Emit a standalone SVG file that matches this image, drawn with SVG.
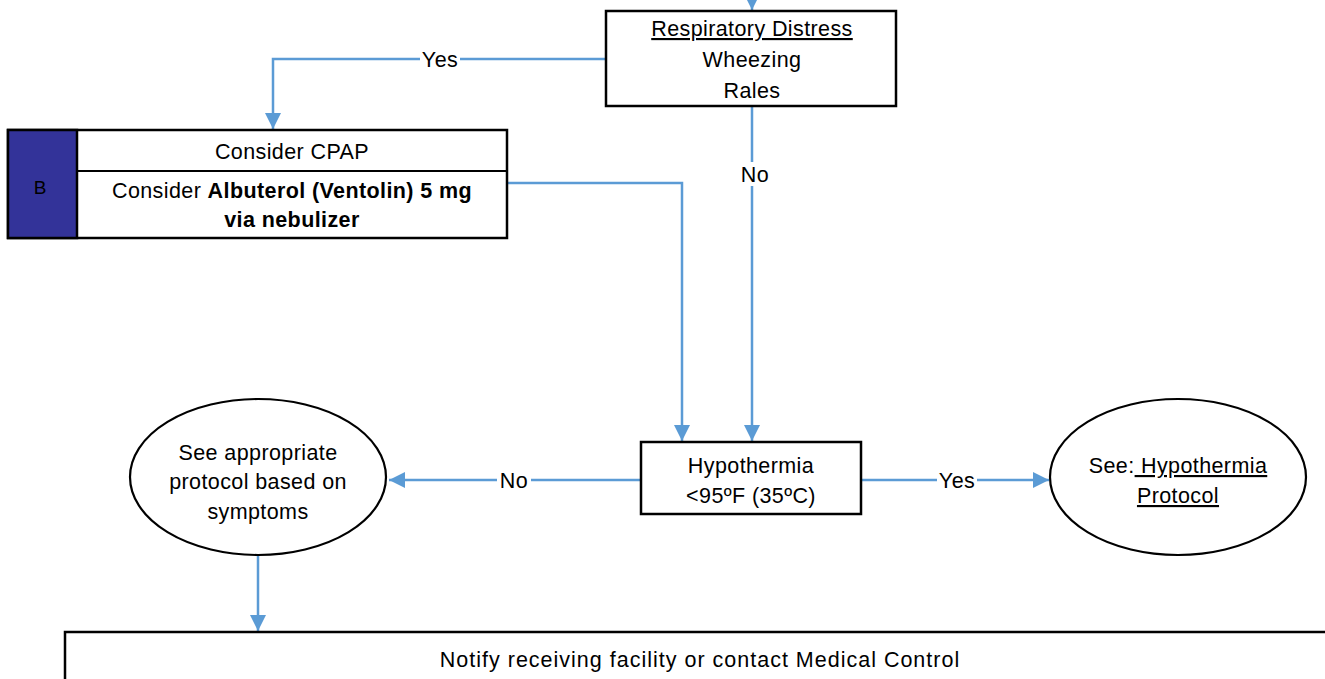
<svg xmlns="http://www.w3.org/2000/svg" width="1325" height="679" viewBox="0 0 1325 679">
<style>
.box{fill:#fff;stroke:#000;stroke-width:2.5}
.ell{fill:#fff;stroke:#000;stroke-width:2.2}
.t{font-family:"Liberation Sans",Arial,sans-serif;font-size:21.5px;letter-spacing:0.4px;fill:#000;text-anchor:middle}
.b{font-weight:bold}
.bl{font-family:"Liberation Sans",Arial,sans-serif;font-size:19px;fill:#000;text-anchor:middle}
.con{fill:none;stroke:#5b9bd5;stroke-width:2.5}
.lbl{fill:#fff}
</style>
<defs>
<marker id="arr" viewBox="0 0 10 10" refX="10" refY="5" markerWidth="6.5" markerHeight="6.5" orient="auto" markerUnits="strokeWidth">
<path d="M0,0 L10,5 L0,10 z" fill="#5b9bd5"/>
</marker>
</defs>
<rect width="1325" height="679" fill="#fff"/>

<g id="connectors">
<path class="con" d="M752,0 V10" marker-end="url(#arr)"/>
<path class="con" d="M606,59 H273 V129" marker-end="url(#arr)"/>
<path class="con" d="M507,183 H682 V441" marker-end="url(#arr)"/>
<path class="con" d="M752,106 V441" marker-end="url(#arr)"/>
<path class="con" d="M641,480 H389" marker-end="url(#arr)"/>
<path class="con" d="M861,480 H1049" marker-end="url(#arr)"/>
<path class="con" d="M258,555 V631" marker-end="url(#arr)"/>
<rect class="lbl" x="420" y="47" width="40" height="24"/>
<text class="t" x="440" y="67">Yes</text>
<rect class="lbl" x="738" y="162" width="34" height="24"/>
<text class="t" x="755" y="182">No</text>
<rect class="lbl" x="497" y="468" width="34" height="24"/>
<text class="t" x="514" y="488">No</text>
<rect class="lbl" x="937" y="468" width="40" height="24"/>
<text class="t" x="957" y="488">Yes</text>
</g>

<g id="respiratory">
<rect class="box" x="606" y="11" width="290" height="95"/>
<text class="t" x="752" y="36" text-decoration="underline">Respiratory Distress</text>
<text class="t" x="752" y="67">Wheezing</text>
<text class="t" x="752" y="98">Rales</text>
</g>

<g id="cpap">
<rect class="box" x="8" y="130" width="499" height="108"/>
<rect x="8" y="130" width="69" height="108" fill="#333399" stroke="#000" stroke-width="2.5"/>
<text class="bl" x="40" y="194">B</text>
<line x1="77" y1="171" x2="507" y2="171" stroke="#000" stroke-width="2"/>
<text class="t" x="292" y="159">Consider CPAP</text>
<text class="t" x="292" y="198">Consider <tspan class="b">Albuterol (Ventolin) 5 mg</tspan></text>
<text class="t b" x="292" y="227">via nebulizer</text>
</g>

<g id="hypothermia">
<rect class="box" x="641" y="442" width="220" height="72"/>
<text class="t" x="751" y="473">Hypothermia</text>
<text class="t" x="751" y="503">&lt;95ºF (35ºC)</text>
</g>

<g id="see-appropriate">
<ellipse class="ell" cx="258" cy="477" rx="128" ry="78"/>
<text class="t" x="258" y="460">See appropriate</text>
<text class="t" x="258" y="489">protocol based on</text>
<text class="t" x="258" y="519">symptoms</text>
</g>

<g id="see-hypothermia">
<ellipse class="ell" cx="1178" cy="477" rx="128" ry="78"/>
<text class="t" x="1178" y="473">See:<tspan text-decoration="underline"> Hypothermia</tspan></text>
<text class="t" x="1178" y="503" text-decoration="underline">Protocol</text>
</g>

<g id="notify">
<rect class="box" x="65" y="632" width="1280" height="60"/>
<text class="t" x="700" y="667" style="letter-spacing:1px">Notify receiving facility or contact Medical Control</text>
</g>
</svg>
